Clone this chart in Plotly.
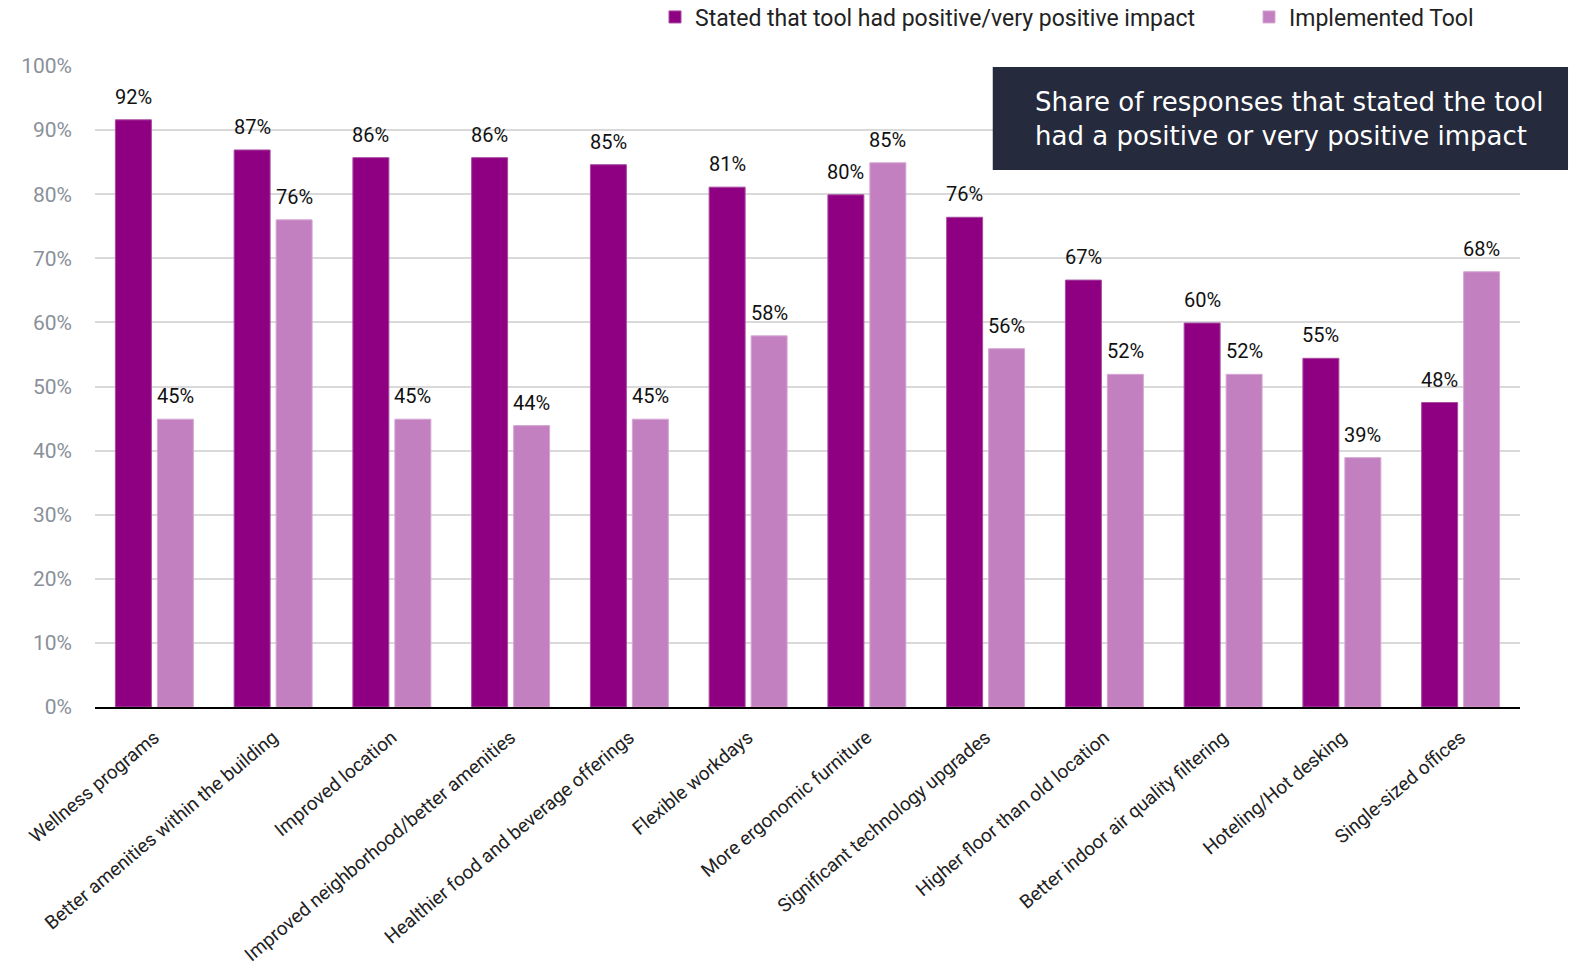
import plotly.graph_objects as go

categories = ["Wellness programs", "Better amenities within the building", "Improved location",
              "Improved neighborhood/better amenities", "Healthier food and beverage offerings",
              "Flexible workdays", "More ergonomic furniture", "Significant technology upgrades",
              "Higher floor than old location", "Better indoor air quality filtering",
              "Hoteling/Hot desking", "Single-sized offices"]
positive = [91.6, 86.9, 85.7, 85.7, 84.6, 81.1, 79.9, 76.4, 66.6, 59.9, 54.4, 47.5]
positive_labels = ["92%", "87%", "86%", "86%", "85%", "81%", "80%", "76%", "67%", "60%", "55%", "48%"]
implemented = [44.9, 76.0, 44.9, 43.9, 44.9, 57.9, 84.9, 55.9, 51.9, 51.9, 38.9, 67.9]
implemented_labels = ["45%", "76%", "45%", "44%", "45%", "58%", "85%", "56%", "52%", "52%", "39%", "68%"]
yticks = [0, 10, 20, 30, 40, 50, 60, 70, 80, 90, 100]
ytick_labels = [f"{v}%" for v in yticks]

DARK = "#8E0081"
LIGHT = "#C380C0"
FONT = "Roboto"

fig = go.Figure()
fig.add_trace(go.Bar(x=categories, y=positive, name="Stated that tool had positive/very positive impact",
                     marker=dict(color=DARK, line=dict(color="#A84AA0", width=1)),
                     legend="legend", showlegend=True))
fig.add_trace(go.Bar(x=categories, y=implemented, name="Implemented Tool",
                     marker=dict(color=LIGHT, line=dict(color="#D6A6D3", width=1)),
                     legend="legend2", showlegend=True))

annotations = []
for c, v, t in zip(categories, positive, positive_labels):
    annotations.append(dict(x=c, y=v, text=t, xref="x", yref="y", showarrow=False,
                            xshift=-21, yshift=9, yanchor="bottom",
                            font=dict(family=FONT, size=20, color="#111111")))
for c, v, t in zip(categories, implemented, implemented_labels):
    annotations.append(dict(x=c, y=v, text=t, xref="x", yref="y", showarrow=False,
                            xshift=21, yshift=9, yanchor="bottom",
                            font=dict(family=FONT, size=20, color="#111111")))

annotations.append(dict(x=0.658, y=0.917, xref="paper", yref="paper", xanchor="left", yanchor="middle",
                        align="left", showarrow=False,
                        text="Share of responses that stated the tool<br>had a positive or very positive impact",
                        font=dict(family="DejaVu Sans", size=26, color="#ffffff")))

legend_common = dict(orientation="h", xref="container", yref="container", xanchor="left",
                     y=1 - 17 / 968, yanchor="middle",
                     font=dict(family=FONT, size=23, color="#222222"),
                     bgcolor="rgba(0,0,0,0)", itemwidth=30)

fig.update_layout(
    width=1575, height=968, showlegend=True,
    paper_bgcolor="white", plot_bgcolor="white",
    margin=dict(l=95, r=55, t=66, b=261, autoexpand=False),
    barmode="group", bargap=0.293, bargroupgap=0.143,
    font=dict(family=FONT, size=17, color="#222222"),
    legend=dict(x=655 / 1575, **legend_common),
    legend2=dict(x=1249 / 1575, **legend_common),
    annotations=annotations,
    shapes=[dict(type="rect", xref="paper", yref="paper", x0=0.630, x1=1.0337, y0=0.8378, y1=0.9984,
                 fillcolor="#252A3C", line=dict(width=0), layer="above")],
)
fig.update_yaxes(range=[0, 100], tickvals=yticks, ticktext=ytick_labels,
                 showgrid=True, gridcolor="#D9D9D9", gridwidth=1.5,
                 zeroline=False, showline=False, ticks="", ticklabelstandoff=22,
                 tickfont=dict(family=FONT, size=21, color="#8A9099"))
fig.update_xaxes(tickangle=-40, showline=True, linecolor="#000000", linewidth=2,
                 ticks="", ticklabelstandoff=10, tickfont=dict(family=FONT, size=19, color="#222222"))

fig.write_html("out.html")
